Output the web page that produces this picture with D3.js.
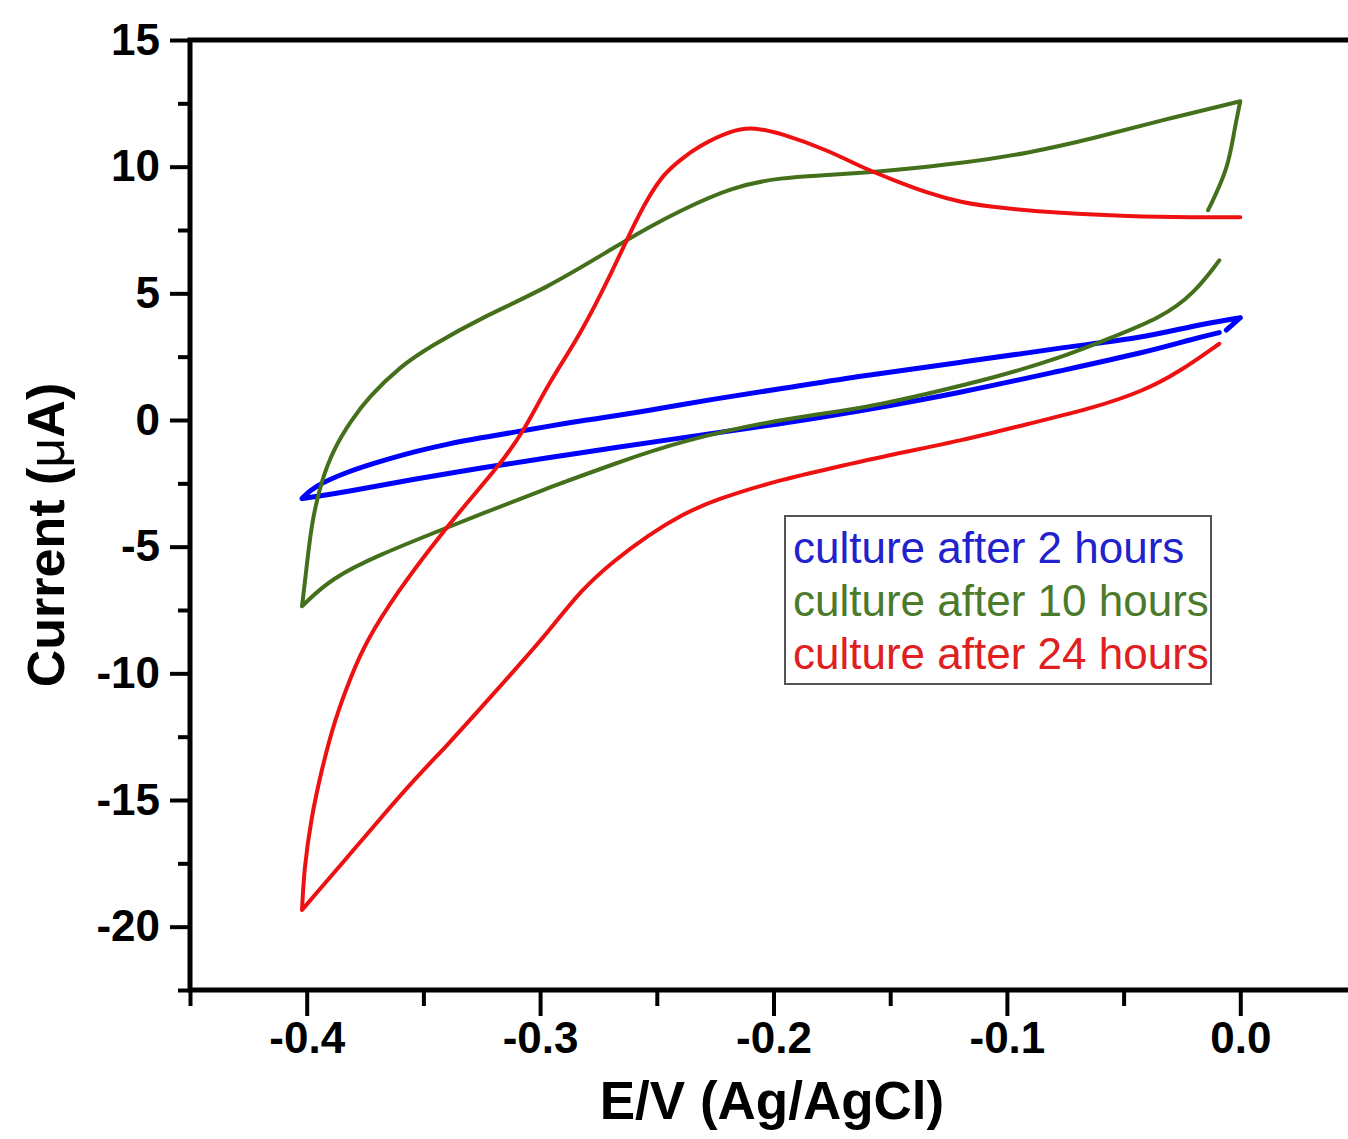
<!DOCTYPE html>
<html>
<head>
<meta charset="utf-8">
<script src="https://cdn.jsdelivr.net/npm/d3@7"></script>
<style>
  html, body { margin: 0; padding: 0; background: #fff; overflow: hidden; }
  svg { display: block; }
</style>
</head>
<body>
<svg id="chart" width="1348" height="1139"></svg>
<script>
// Cyclic voltammograms of the culture at three incubation times.
// Each scan is stored as branches of [potential (V vs Ag/AgCl), current (µA)].

const seriesLabels = ["culture after 2 hours", "culture after 10 hours", "culture after 24 hours"];

// 2 hours
const scan2hCathodic = [
  [-0.009, 3.45], [-0.0198, 3.21], [-0.0412, 2.66], [-0.0767, 1.95], [-0.1196, 1.08],
  [-0.1624, 0.36], [-0.1967, -0.15], [-0.2395, -0.70], [-0.2683, -1.10], [-0.2966, -1.49],
  [-0.3252, -1.89], [-0.3539, -2.33], [-0.3822, -2.82], [-0.396, -3.02], [-0.402, -3.10]
];
const scan2hAnodic = [
  [-0.402, -3.10], [-0.397, -2.62], [-0.382, -2.02], [-0.368, -1.62], [-0.3539, -1.25],
  [-0.3394, -0.94], [-0.3252, -0.70], [-0.311, -0.48], [-0.2966, -0.25], [-0.2824, -0.03],
  [-0.2537, 0.36], [-0.2254, 0.84], [-0.1967, 1.23], [-0.1624, 1.75], [-0.1196, 2.27],
  [-0.0767, 2.86], [-0.0412, 3.25], [-0.0198, 3.73], [0.0, 4.04]
];
const scan2hReturn = [[0.0, 4.04], [-0.006, 3.55]];

// 10 hours
const scan10hCathodic = [
  [-0.009, 6.30], [-0.0198, 4.99], [-0.0339, 4.04], [-0.0553, 3.25], [-0.0767, 2.46],
  [-0.1054, 1.67], [-0.1337, 1.04], [-0.1624, 0.44], [-0.1967, 0.05], [-0.2395, -0.82],
  [-0.2683, -1.73], [-0.2966, -2.68], [-0.3252, -3.71], [-0.3467, -4.50], [-0.368, -5.29],
  [-0.3895, -6.24], [-0.402, -7.35]
];
const scan10hAnodic = [
  [-0.402, -7.35], [-0.4002, -5.96], [-0.398, -4.11], [-0.3938, -2.41], [-0.3882, -1.10],
  [-0.381, -0.03], [-0.3737, 0.88], [-0.3595, 2.15], [-0.3467, 2.92], [-0.3252, 4.04],
  [-0.2966, 5.23], [-0.2683, 6.81], [-0.2537, 7.60], [-0.2395, 8.28], [-0.2181, 9.19],
  [-0.1967, 9.58], [-0.1766, 9.66], [-0.1483, 9.86], [-0.1196, 10.13], [-0.0909, 10.53],
  [-0.0626, 11.12], [-0.0339, 11.83], [0.0, 12.58]
];
const scan10hReturn = [[0.0, 12.58], [-0.0026, 11.44], [-0.0052, 9.93], [-0.0138, 8.28]];

// 24 hours
const scan24hCathodic = [
  [-0.009, 3.01], [-0.0266, 1.87], [-0.0412, 1.16], [-0.0626, 0.48], [-0.0909, -0.15],
  [-0.1196, -0.82], [-0.1483, -1.34], [-0.1766, -1.93], [-0.1967, -2.35], [-0.2254, -3.15],
  [-0.2395, -3.75], [-0.2537, -4.55], [-0.2683, -5.55], [-0.2824, -6.70], [-0.2966, -8.38],
  [-0.311, -9.88], [-0.3252, -11.35], [-0.3394, -12.80], [-0.3539, -14.19], [-0.368, -15.68],
  [-0.3822, -17.22], [-0.3968, -18.78], [-0.402, -19.34]
];
const scan24hAnodic = [
  [-0.402, -19.34], [-0.4011, -17.72], [-0.3981, -15.73], [-0.3938, -13.88], [-0.3882, -11.89],
  [-0.381, -10.11], [-0.3745, -8.72], [-0.3608, -6.75], [-0.3467, -5.01], [-0.3325, -3.39],
  [-0.318, -1.85], [-0.3068, -0.43], [-0.2966, 1.43], [-0.2824, 3.41], [-0.2683, 6.02],
  [-0.261, 7.48], [-0.2537, 8.79], [-0.2468, 9.74], [-0.2395, 10.30], [-0.2322, 10.80],
  [-0.2181, 11.44], [-0.2083, 11.56], [-0.1967, 11.31], [-0.1766, 10.65], [-0.1624, 9.98],
  [-0.1483, 9.46], [-0.1337, 8.95], [-0.1196, 8.59], [-0.1054, 8.39], [-0.0767, 8.16],
  [-0.048, 8.04], [-0.0198, 8.00], [0.0, 8.00]
];

const xMajorTicks = [-0.4, -0.3, -0.2, -0.1, 0.0];
const xMinorTicks = [-0.45, -0.35, -0.25, -0.15, -0.05, 0.05];
const yMajorTicks = [-20, -15, -10, -5, 0, 5, 10, 15];
const yMinorTicks = [-22.5, -17.5, -12.5, -7.5, -2.5, 2.5, 7.5, 12.5];

const xTitle = "E/V (Ag/AgCl)";

// ---- drawing ----
const lineColors = ["#0000ff", "#44701c", "#ee1111"];
const textColors = ["#2222cc", "#4a7a2a", "#e02020"];
const lineWidths = [5, 4, 4];
const scans = [
  [scan2hCathodic, scan2hAnodic, scan2hReturn],
  [scan10hCathodic, scan10hAnodic, scan10hReturn],
  [scan24hCathodic, scan24hAnodic]
];

const font = "'Liberation Sans', Arial, Helvetica, sans-serif";
const svg = d3.select("#chart");

const x = d3.scaleLinear().domain([-0.45, 0.05]).range([190, 1357]);
const y = d3.scaleLinear().domain([-22.5, 15]).range([990, 40]);

// smooth B-spline through each branch; branch ends (the turning points) stay exact
const line = d3.line()
  .x(d => x(d[0]))
  .y(d => y(d[1]))
  .curve(d3.curveBasis);

const curves = svg.append("g");
scans.forEach((branches, i) => {
  curves.append("path")
    .attr("d", branches.map(b => line(b)).join(""))
    .attr("fill", "none")
    .attr("stroke", lineColors[i])
    .attr("stroke-width", lineWidths[i])
    .attr("stroke-linejoin", "round")
    .attr("stroke-linecap", "round");
});

// axes
function styleAxis(g) {
  g.select(".domain").remove();
  g.selectAll(".tick line").attr("stroke", "#000").attr("stroke-width", 4);
  g.selectAll(".tick text")
    .attr("fill", "#000")
    .attr("font-family", font)
    .attr("font-weight", "bold")
    .attr("font-size", 44);
}

svg.append("g")
  .attr("transform", `translate(0,${y(-22.5)})`)
  .call(d3.axisBottom(x).tickValues(xMajorTicks).tickSize(26).tickPadding(6)
    .tickFormat(d => d.toFixed(1)))
  .call(styleAxis);
svg.append("g")
  .attr("transform", `translate(0,${y(-22.5)})`)
  .call(d3.axisBottom(x).tickValues(xMinorTicks).tickSize(16).tickFormat(""))
  .call(styleAxis);

svg.append("g")
  .attr("transform", `translate(${x(-0.45)},0)`)
  .call(d3.axisLeft(y).tickValues(yMajorTicks).tickSize(20).tickPadding(10)
    .tickFormat(d => String(d)))
  .call(styleAxis);
svg.append("g")
  .attr("transform", `translate(${x(-0.45)},0)`)
  .call(d3.axisLeft(y).tickValues(yMinorTicks).tickSize(12).tickFormat(""))
  .call(styleAxis);

// plot frame
svg.append("rect")
  .attr("x", x(-0.45)).attr("y", y(15))
  .attr("width", x(0.05) - x(-0.45)).attr("height", y(-22.5) - y(15))
  .attr("fill", "none").attr("stroke", "#000").attr("stroke-width", 5);

// axis titles
svg.append("text")
  .attr("x", 772).attr("y", 1119)
  .attr("text-anchor", "middle")
  .attr("font-family", font).attr("font-weight", "bold").attr("font-size", 53)
  .text(xTitle);

const yt = svg.append("text")
  .attr("transform", "translate(64,535) rotate(-90)")
  .attr("text-anchor", "middle")
  .attr("font-family", font).attr("font-weight", "bold").attr("font-size", 52);
yt.append("tspan").text("Current (");
yt.append("tspan").attr("font-weight", "normal").text("\u03bc");
yt.append("tspan").text("A)");

// legend
const legend = svg.append("g");
legend.append("rect")
  .attr("x", 785).attr("y", 516).attr("width", 426).attr("height", 168)
  .attr("fill", "#fff").attr("stroke", "#555").attr("stroke-width", 2);
seriesLabels.forEach((label, i) => {
  legend.append("text")
    .attr("x", 793).attr("y", 563 + i * 53)
    .attr("font-family", font).attr("font-size", 44)
    .attr("fill", textColors[i])
    .text(label);
});
</script>
</body>
</html>
